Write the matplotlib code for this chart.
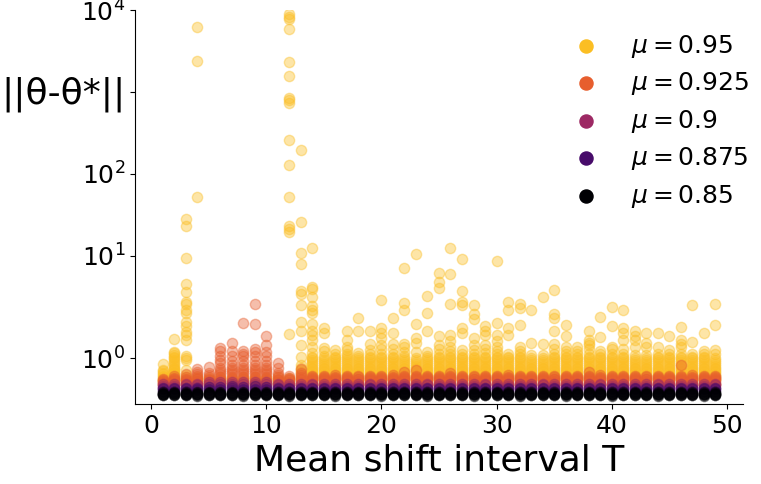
"""Parameter error ||theta - theta*|| vs. mean shift interval T for several mu."""

import matplotlib

matplotlib.use("Agg")
import matplotlib.pyplot as plt
from matplotlib.ticker import FixedLocator, NullLocator

T_VALUES = list(range(1, 50))
MU_LABELS = [r"$\mu=0.95$", r"$\mu=0.925$", r"$\mu=0.9$", r"$\mu=0.875$", r"$\mu=0.85$"]
Y_TICKS = [1, 10, 100, 1000, 10000]
Y_TICK_LABELS = [r"$10^{0}$", r"$10^{1}$", r"$10^{2}$", "", r"$10^{4}$"]

# one list of run results per T
ERR_095 = [
    [0.5, 0.53, 0.56, 0.59, 0.62, 0.65, 0.68, 0.72, 0.75, 0.87],
    [0.5, 0.53, 0.56, 0.59, 0.62, 0.65, 0.68, 0.71, 0.74, 0.77, 0.8, 0.84, 0.88,
     0.92, 0.96, 1.0, 1.04, 1.08, 1.12, 1.15, 1.42],
    [0.55, 0.6, 0.64, 0.74, 0.97, 1.0, 1.05, 1.4, 1.51, 1.58, 1.71, 1.8, 1.99, 2.2,
     2.56, 2.73, 3.6, 4.5, 9.4, 23.1, 27.9],
    [0.48, 0.54, 0.6, 52, 2355, 6170],
    [0.46, 0.52, 0.58],
    [0.47, 0.53, 0.6],
    [0.46, 0.52, 0.58],
    [0.47, 0.54, 0.6],
    [0.46, 0.52, 0.6],
    [0.47, 0.53, 0.58],
    [0.46, 0.52, 0.6],
    [0.46, 0.52, 0.58, 1.53, 19.5, 21.4, 23, 52, 127, 261, 730, 787, 840, 1556,
     2306, 5890, 7800, 8320, 8980],
    [0.55, 0.6, 0.65, 0.7, 0.75, 0.8, 0.85, 1.04, 1.29, 1.6, 1.8, 2.5, 3.4, 3.7,
     8.0, 10.8, 25.8, 194],
    [0.55, 0.58, 0.61, 0.64, 0.67, 0.7, 0.73, 0.76, 0.8, 0.84, 0.88, 0.92, 0.96,
     1.0, 1.04, 1.12, 1.25, 1.4, 1.51, 1.6, 1.75, 2.0, 2.2, 2.43, 3.14, 3.9, 4.2, 12.6],
    [0.55, 0.58, 0.61, 0.64, 0.67, 0.7, 0.73, 0.76, 0.8, 0.84, 0.88, 0.92, 0.96,
     1.0, 1.05, 1.16, 1.22, 1.55, 1.66],
    [0.55, 0.58, 0.61, 0.64, 0.67, 0.7, 0.73, 0.76, 0.8, 0.84, 0.88, 0.92, 0.96,
     1.0, 1.04, 1.1, 1.18],
    [0.55, 0.58, 0.61, 0.64, 0.67, 0.7, 0.73, 0.76, 0.8, 0.84, 0.88, 0.92, 0.96,
     1.0, 1.05, 1.1, 1.18, 1.25, 1.4, 1.6],
    [0.55, 0.58, 0.61, 0.64, 0.67, 0.7, 0.73, 0.76, 0.8, 0.84, 0.88, 0.92, 0.96,
     1.0, 1.05, 1.12, 1.6, 1.89],
    [0.55, 0.58, 0.61, 0.64, 0.67, 0.7, 0.73, 0.76, 0.8, 0.84, 0.88, 0.92, 0.96,
     1.0, 1.04, 1.1, 1.18, 1.31, 1.6],
    [0.55, 0.58, 0.61, 0.64, 0.67, 0.7, 0.73, 0.76, 0.8, 0.84, 0.88, 0.92, 0.96,
     1.0, 1.04, 1.1, 1.2, 1.3, 1.44, 1.55, 1.68, 2.86],
    [0.55, 0.58, 0.61, 0.64, 0.67, 0.7, 0.73, 0.76, 0.8, 0.84, 0.88, 0.92, 0.96,
     1.0, 1.04, 1.1, 1.2, 1.31, 1.55, 1.9],
    [0.55, 0.58, 0.61, 0.64, 0.67, 0.7, 0.73, 0.76, 0.8, 0.84, 0.88, 0.92, 0.96,
     1.0, 1.05, 1.15, 1.25, 1.31, 2.15, 2.65, 7.1],
    [0.55, 0.58, 0.61, 0.64, 0.67, 0.7, 0.73, 0.76, 0.8, 0.84, 0.88, 0.92, 0.96,
     1.0, 1.15, 1.35, 1.44, 1.75, 10.4],
    [0.55, 0.58, 0.61, 0.64, 0.67, 0.7, 0.73, 0.76, 0.8, 0.84, 0.88, 0.92, 0.96,
     1.0, 1.05, 1.15, 1.6, 2.0, 3.2],
    [0.55, 0.58, 0.61, 0.64, 0.67, 0.7, 0.73, 0.76, 0.8, 0.84, 0.88, 0.92, 0.96,
     1.0, 1.04, 1.1, 1.2, 1.3, 1.5, 4.0, 4.75, 6.07],
    [0.55, 0.58, 0.61, 0.64, 0.67, 0.7, 0.73, 0.76, 0.8, 0.84, 0.88, 0.92, 0.96,
     1.0, 1.04, 1.1, 1.16, 1.25, 1.38, 1.51, 2.58, 6.0, 12.6],
    [0.55, 0.58, 0.61, 0.64, 0.67, 0.7, 0.73, 0.76, 0.8, 0.84, 0.88, 0.92, 0.96,
     1.0, 1.04, 1.1, 1.18, 1.55, 1.66, 2.5, 2.7, 3.7, 9.0],
    [0.55, 0.58, 0.61, 0.64, 0.67, 0.7, 0.73, 0.76, 0.8, 0.84, 0.88, 0.92, 0.96,
     1.0, 1.04, 1.1, 1.18, 1.3, 1.45, 1.86, 1.98, 2.5],
    [0.55, 0.58, 0.61, 0.64, 0.67, 0.7, 0.73, 0.76, 0.8, 0.84, 0.88, 0.92, 0.96,
     1.0, 1.04, 1.12, 1.2, 1.3, 1.51, 1.6, 1.71],
    [0.55, 0.58, 0.61, 0.64, 0.67, 0.7, 0.73, 0.76, 0.8, 0.84, 0.88, 0.92, 0.96,
     1.0, 1.04, 1.1, 1.16, 1.25, 1.38, 1.51, 1.78, 8.6],
    [0.55, 0.58, 0.61, 0.64, 0.67, 0.7, 0.73, 0.76, 0.8, 0.84, 0.88, 0.92, 0.96,
     1.0, 1.04, 1.1, 1.51, 1.66, 2.15, 2.75],
    [0.55, 0.58, 0.61, 0.64, 0.67, 0.7, 0.73, 0.76, 0.8, 0.84, 0.88, 0.92, 0.96,
     1.0, 1.04, 1.1, 1.16, 1.25, 1.73, 2.27, 2.58],
    [0.55, 0.58, 0.61, 0.64, 0.67, 0.7, 0.73, 0.76, 0.8, 0.84, 0.88, 0.92, 0.96,
     1.0, 1.07, 1.35, 2.15],
    [0.55, 0.58, 0.61, 0.64, 0.67, 0.7, 0.73, 0.76, 0.8, 0.84, 0.88, 0.92, 0.96,
     1.0, 1.07, 1.31, 3.15],
    [0.55, 0.58, 0.61, 0.64, 0.67, 0.7, 0.73, 0.76, 0.8, 0.84, 0.88, 0.92, 0.96,
     1.0, 1.04, 1.1, 1.2, 1.31, 1.6, 1.9, 1.98, 3.85],
    [0.55, 0.58, 0.61, 0.64, 0.67, 0.7, 0.73, 0.76, 0.8, 0.84, 0.88, 0.92, 0.96,
     1.0, 1.04, 1.1, 1.16, 1.25, 1.49, 1.73],
    [0.55, 0.58, 0.61, 0.64, 0.67, 0.7, 0.73, 0.76, 0.8, 0.84, 0.88, 0.92, 0.96,
     1.0, 1.04, 1.1, 1.16, 1.25],
    [0.55, 0.58, 0.61, 0.64, 0.67, 0.7, 0.73, 0.76, 0.8, 0.84, 0.88, 0.92, 0.96,
     1.0, 1.04, 1.1, 1.2, 1.3, 1.35, 1.4, 1.6],
    [0.55, 0.58, 0.61, 0.64, 0.67, 0.7, 0.73, 0.76, 0.8, 0.84, 0.88, 0.92, 0.96,
     1.0, 1.04, 1.1, 1.17, 1.47, 1.91],
    [0.55, 0.58, 0.61, 0.64, 0.67, 0.7, 0.73, 0.76, 0.8, 0.84, 0.88, 0.92, 0.96,
     1.0, 1.04, 1.1, 1.2, 1.25, 1.72, 2.4],
    [0.55, 0.58, 0.61, 0.64, 0.67, 0.7, 0.73, 0.76, 0.8, 0.84, 0.88, 0.92, 0.96,
     1.0, 1.04, 1.1, 1.2, 1.4, 1.55, 1.66, 2.2],
    [0.55, 0.58, 0.61, 0.64, 0.67, 0.7, 0.73, 0.76, 0.8, 0.84, 0.88, 0.92, 0.96,
     1.0, 1.07, 1.25, 1.4, 1.5, 1.6],
    [0.55, 0.58, 0.61, 0.64, 0.67, 0.7, 0.73, 0.76, 0.8, 0.84, 0.88, 0.92, 0.96,
     1.0, 1.07, 1.25, 1.35, 1.55],
    [0.55, 0.58, 0.61, 0.64, 0.67, 0.7, 0.73, 0.76, 0.8, 0.84, 0.88, 0.92, 0.96,
     1.0, 1.04, 1.1, 1.25, 1.55],
    [0.55, 0.58, 0.61, 0.64, 0.67, 0.7, 0.73, 0.76, 0.8, 0.84, 0.88, 0.92, 0.96,
     1.0, 1.04, 1.1, 1.18, 1.5],
    [0.55, 0.58, 0.61, 0.64, 0.67, 0.7, 0.73, 0.76, 0.8, 0.84, 0.88, 0.92, 0.96,
     1.0, 1.04, 1.1, 1.25, 1.31, 1.4, 1.69],
    [0.55, 0.58, 0.61, 0.64, 0.67, 0.7, 0.73, 0.76, 0.8, 0.84, 0.88, 0.92, 0.96,
     1.0, 1.04, 1.1, 1.37, 2.5],
    [0.55, 0.58, 0.61, 0.64, 0.67, 0.7, 0.73, 0.76, 0.8, 0.84, 0.88, 0.92, 0.96,
     1.0, 1.04, 1.1, 1.16, 1.55],
    [0.55, 0.58, 0.61, 0.64, 0.67, 0.7, 0.73, 0.76, 0.8, 0.83, 0.88, 0.92, 0.96,
     1.02, 1.1, 1.18, 1.74, 2.58],
]

ERR_0925 = [
    [0.42, 0.44, 0.46, 0.48, 0.5, 0.53, 0.55],
    [0.42, 0.45, 0.47, 0.5, 0.52, 0.55, 0.58, 0.62],
    [0.43, 0.46, 0.48, 0.5, 0.53, 0.56, 0.6, 0.66],
    [0.42, 0.45, 0.48, 0.51, 0.55, 0.58, 0.62, 0.66, 0.7, 0.78],
    [0.45, 0.48, 0.52, 0.56, 0.6, 0.64, 0.68, 0.82],
    [0.45, 0.48, 0.52, 0.56, 0.6, 0.65, 0.7, 0.75, 0.8, 0.9, 0.96, 1.05, 1.16, 1.22],
    [0.45, 0.5, 0.55, 0.6, 0.65, 0.7, 0.75, 0.8, 0.85, 0.95, 1.05, 1.16, 1.33],
    [0.45, 0.5, 0.55, 0.6, 0.65, 0.7, 0.75, 0.8, 0.85, 0.95, 1.05, 1.1, 1.16, 1.79],
    [0.45, 0.5, 0.55, 0.6, 0.65, 0.7, 0.75, 0.8, 0.85, 0.95, 1.05, 1.15, 1.2,
     1.75, 2.6],
    [0.45, 0.5, 0.55, 0.6, 0.65, 0.7, 0.75, 0.8, 0.85, 0.95, 1.05, 1.15, 1.29, 1.5],
    [0.45, 0.48, 0.52, 0.56, 0.6, 0.64, 0.68, 0.8, 0.9],
    [0.42, 0.45, 0.48, 0.52, 0.55, 0.58, 0.62],
    [0.45, 0.48, 0.52, 0.56, 0.6, 0.64, 0.68, 0.78],
    [0.42, 0.45, 0.47, 0.5, 0.52, 0.55, 0.57, 0.6, 0.62],
    [0.42, 0.45, 0.47, 0.5, 0.52, 0.55, 0.57, 0.6, 0.62],
    [0.42, 0.45, 0.47, 0.5, 0.52, 0.55, 0.58, 0.6, 0.63],
    [0.42, 0.45, 0.47, 0.5, 0.52, 0.55, 0.57, 0.6, 0.62],
    [0.42, 0.44, 0.46, 0.49, 0.51, 0.54, 0.56, 0.59, 0.62],
    [0.42, 0.45, 0.47, 0.5, 0.52, 0.55, 0.57, 0.6, 0.62],
    [0.42, 0.45, 0.47, 0.5, 0.52, 0.55, 0.57, 0.6, 0.62],
    [0.42, 0.45, 0.47, 0.5, 0.52, 0.55, 0.58, 0.6, 0.63],
    [0.42, 0.45, 0.47, 0.5, 0.52, 0.55, 0.57, 0.6, 0.62, 0.71],
    [0.42, 0.45, 0.47, 0.5, 0.52, 0.55, 0.57, 0.6, 0.62, 0.74],
    [0.42, 0.45, 0.47, 0.5, 0.52, 0.55, 0.57, 0.6, 0.62],
    [0.42, 0.45, 0.47, 0.5, 0.52, 0.55, 0.57, 0.6, 0.62],
    [0.42, 0.45, 0.47, 0.5, 0.52, 0.55, 0.57, 0.6, 0.62, 0.68],
    [0.42, 0.45, 0.47, 0.5, 0.52, 0.55, 0.57, 0.6, 0.62],
    [0.42, 0.44, 0.46, 0.49, 0.51, 0.54, 0.56, 0.59, 0.62],
    [0.42, 0.45, 0.47, 0.5, 0.52, 0.55, 0.57, 0.6, 0.62],
    [0.42, 0.45, 0.47, 0.5, 0.52, 0.55, 0.57, 0.6, 0.62],
    [0.42, 0.45, 0.47, 0.5, 0.52, 0.55, 0.58, 0.6, 0.63],
    [0.42, 0.45, 0.47, 0.5, 0.52, 0.55, 0.57, 0.6, 0.62],
    [0.42, 0.45, 0.47, 0.5, 0.52, 0.55, 0.57, 0.6, 0.62],
    [0.42, 0.45, 0.47, 0.5, 0.52, 0.55, 0.57, 0.6, 0.62],
    [0.42, 0.44, 0.46, 0.49, 0.51, 0.54, 0.56, 0.59, 0.62],
    [0.42, 0.45, 0.47, 0.5, 0.52, 0.55, 0.57, 0.6, 0.62],
    [0.42, 0.45, 0.47, 0.5, 0.52, 0.55, 0.57, 0.6, 0.62],
    [0.42, 0.45, 0.47, 0.5, 0.52, 0.55, 0.57, 0.6, 0.62, 0.7],
    [0.42, 0.45, 0.47, 0.5, 0.52, 0.55, 0.58, 0.6, 0.63],
    [0.42, 0.45, 0.47, 0.5, 0.52, 0.55, 0.57, 0.6, 0.62],
    [0.42, 0.45, 0.47, 0.5, 0.52, 0.55, 0.57, 0.6, 0.62],
    [0.42, 0.45, 0.47, 0.5, 0.52, 0.55, 0.57, 0.6, 0.62],
    [0.42, 0.44, 0.46, 0.49, 0.51, 0.54, 0.56, 0.59, 0.62],
    [0.42, 0.45, 0.47, 0.5, 0.52, 0.55, 0.57, 0.6, 0.62],
    [0.42, 0.45, 0.47, 0.5, 0.52, 0.55, 0.57, 0.6, 0.62],
    [0.42, 0.45, 0.47, 0.5, 0.52, 0.55, 0.57, 0.6, 0.62, 0.85],
    [0.42, 0.45, 0.47, 0.5, 0.52, 0.55, 0.58, 0.6, 0.63],
    [0.42, 0.45, 0.47, 0.5, 0.52, 0.55, 0.57, 0.6, 0.62],
    [0.42, 0.45, 0.47, 0.5, 0.52, 0.55, 0.57, 0.6, 0.62],
]

ERR_09 = [
    [0.36, 0.4, 0.44], [0.36, 0.4, 0.44], [0.36, 0.41, 0.45], [0.37, 0.41, 0.45],
    [0.38, 0.43, 0.48], [0.38, 0.43, 0.48], [0.38, 0.44, 0.49], [0.38, 0.43, 0.48],
    [0.38, 0.43, 0.49], [0.38, 0.43, 0.48], [0.37, 0.41, 0.45], [0.36, 0.4, 0.44],
    [0.36, 0.4, 0.44], [0.36, 0.41, 0.45], [0.36, 0.4, 0.44], [0.36, 0.4, 0.44],
    [0.36, 0.4, 0.45], [0.36, 0.4, 0.44], [0.36, 0.41, 0.44], [0.36, 0.4, 0.44],
    [0.36, 0.4, 0.44], [0.36, 0.4, 0.45], [0.36, 0.4, 0.44], [0.36, 0.41, 0.44],
    [0.36, 0.4, 0.44], [0.36, 0.4, 0.44], [0.36, 0.4, 0.45], [0.36, 0.4, 0.44],
    [0.36, 0.41, 0.44], [0.36, 0.4, 0.44], [0.36, 0.4, 0.44], [0.36, 0.4, 0.45],
    [0.36, 0.4, 0.44], [0.36, 0.41, 0.44], [0.36, 0.4, 0.44], [0.36, 0.4, 0.44],
    [0.36, 0.4, 0.45], [0.36, 0.4, 0.44], [0.36, 0.41, 0.44], [0.36, 0.4, 0.44],
    [0.36, 0.4, 0.44], [0.36, 0.4, 0.45], [0.36, 0.4, 0.44], [0.36, 0.41, 0.44],
    [0.36, 0.4, 0.44], [0.36, 0.4, 0.44], [0.36, 0.4, 0.45], [0.36, 0.4, 0.44],
    [0.36, 0.41, 0.44],
]

ERR_0875 = [
    [0.29, 0.32, 0.35], [0.29, 0.32, 0.35], [0.29, 0.33, 0.36], [0.3, 0.33, 0.36],
    [0.3, 0.34, 0.38], [0.3, 0.34, 0.38], [0.3, 0.35, 0.39], [0.3, 0.34, 0.38],
    [0.3, 0.34, 0.39], [0.3, 0.34, 0.38], [0.29, 0.33, 0.36], [0.29, 0.32, 0.35],
    [0.29, 0.32, 0.35], [0.29, 0.33, 0.35], [0.29, 0.32, 0.35], [0.29, 0.32, 0.36],
    [0.29, 0.32, 0.35], [0.29, 0.32, 0.35], [0.29, 0.33, 0.35], [0.29, 0.32, 0.35],
    [0.29, 0.32, 0.36], [0.29, 0.32, 0.35], [0.29, 0.32, 0.35], [0.29, 0.33, 0.35],
    [0.29, 0.32, 0.35], [0.29, 0.32, 0.36], [0.29, 0.32, 0.35], [0.29, 0.32, 0.35],
    [0.29, 0.33, 0.35], [0.29, 0.32, 0.35], [0.29, 0.32, 0.36], [0.29, 0.32, 0.35],
    [0.29, 0.32, 0.35], [0.29, 0.33, 0.35], [0.29, 0.32, 0.35], [0.29, 0.32, 0.36],
    [0.29, 0.32, 0.35], [0.29, 0.32, 0.35], [0.29, 0.33, 0.35], [0.29, 0.32, 0.35],
    [0.29, 0.32, 0.36], [0.29, 0.32, 0.35], [0.29, 0.32, 0.35], [0.29, 0.33, 0.35],
    [0.29, 0.32, 0.35], [0.29, 0.32, 0.36], [0.29, 0.32, 0.35], [0.29, 0.32, 0.35],
    [0.29, 0.33, 0.35],
]

ERR_085 = [
    [0.19, 0.2, 0.21, 0.22, 0.23, 0.24, 0.26], [0.19, 0.2, 0.21, 0.22, 0.24, 0.25, 0.27],
    [0.19, 0.2, 0.21, 0.22, 0.23, 0.25, 0.27], [0.18, 0.2, 0.21, 0.22, 0.23, 0.24, 0.26],
    [0.19, 0.2, 0.21, 0.23, 0.24, 0.25, 0.27], [0.19, 0.2, 0.21, 0.22, 0.23, 0.25, 0.27],
    [0.19, 0.2, 0.22, 0.23, 0.24, 0.25, 0.27], [0.18, 0.2, 0.21, 0.22, 0.23, 0.24, 0.26],
    [0.19, 0.2, 0.21, 0.22, 0.24, 0.25, 0.27], [0.19, 0.2, 0.21, 0.22, 0.23, 0.25, 0.27],
    [0.19, 0.2, 0.21, 0.22, 0.23, 0.24, 0.26], [0.18, 0.2, 0.21, 0.22, 0.23, 0.24, 0.26],
    [0.19, 0.2, 0.21, 0.22, 0.23, 0.25, 0.27], [0.19, 0.2, 0.21, 0.23, 0.24, 0.25, 0.27],
    [0.19, 0.2, 0.21, 0.22, 0.23, 0.24, 0.26], [0.18, 0.2, 0.21, 0.22, 0.23, 0.24, 0.26],
    [0.19, 0.2, 0.21, 0.22, 0.23, 0.25, 0.27], [0.19, 0.2, 0.21, 0.22, 0.24, 0.25, 0.27],
    [0.19, 0.2, 0.21, 0.22, 0.23, 0.24, 0.26], [0.18, 0.2, 0.21, 0.22, 0.23, 0.25, 0.27],
    [0.19, 0.2, 0.21, 0.22, 0.23, 0.24, 0.26], [0.19, 0.2, 0.21, 0.23, 0.24, 0.25, 0.27],
    [0.19, 0.2, 0.21, 0.22, 0.23, 0.24, 0.26], [0.18, 0.2, 0.21, 0.22, 0.23, 0.24, 0.26],
    [0.19, 0.2, 0.21, 0.22, 0.23, 0.25, 0.27], [0.19, 0.2, 0.21, 0.22, 0.24, 0.25, 0.27],
    [0.19, 0.2, 0.21, 0.22, 0.23, 0.24, 0.26], [0.18, 0.2, 0.21, 0.22, 0.23, 0.25, 0.27],
    [0.19, 0.2, 0.21, 0.22, 0.23, 0.24, 0.26], [0.19, 0.2, 0.21, 0.23, 0.24, 0.25, 0.27],
    [0.19, 0.2, 0.21, 0.22, 0.23, 0.24, 0.26], [0.18, 0.2, 0.21, 0.22, 0.23, 0.24, 0.26],
    [0.19, 0.2, 0.21, 0.22, 0.23, 0.25, 0.27], [0.19, 0.2, 0.21, 0.22, 0.24, 0.25, 0.27],
    [0.19, 0.2, 0.21, 0.22, 0.23, 0.24, 0.26], [0.18, 0.2, 0.21, 0.22, 0.23, 0.24, 0.26],
    [0.19, 0.2, 0.21, 0.22, 0.23, 0.25, 0.27], [0.19, 0.2, 0.21, 0.23, 0.24, 0.25, 0.27],
    [0.19, 0.2, 0.21, 0.22, 0.23, 0.24, 0.26], [0.18, 0.2, 0.21, 0.22, 0.23, 0.25, 0.27],
    [0.19, 0.2, 0.21, 0.22, 0.23, 0.24, 0.26], [0.19, 0.2, 0.21, 0.22, 0.24, 0.25, 0.27],
    [0.19, 0.2, 0.21, 0.22, 0.23, 0.24, 0.26], [0.18, 0.2, 0.21, 0.22, 0.23, 0.24, 0.26],
    [0.19, 0.2, 0.21, 0.22, 0.23, 0.25, 0.27], [0.19, 0.2, 0.21, 0.23, 0.24, 0.25, 0.27],
    [0.19, 0.2, 0.21, 0.22, 0.23, 0.24, 0.26], [0.18, 0.2, 0.21, 0.22, 0.23, 0.25, 0.27],
    [0.19, 0.2, 0.21, 0.22, 0.23, 0.24, 0.26],
]

ALL_RUNS = [ERR_095, ERR_0925, ERR_09, ERR_0875, ERR_085]
# positions in the inferno colormap, bright (0.95) to black (0.85)
CMAP_POS = [0.85, 0.6375, 0.425, 0.2125, 0.0]


def flatten(runs):
    xs = [t for t, vals in zip(T_VALUES, runs) for _ in vals]
    ys = [v for vals in runs for v in vals]
    return xs, ys


def main() -> None:
    fig = plt.figure(figsize=(7.61, 4.84), dpi=100)
    ax = fig.add_axes([0.1774, 0.1653, 0.9763 - 0.1774, 0.9793 - 0.1653])

    for runs, label, pos in zip(ALL_RUNS, MU_LABELS, CMAP_POS):
        xs, ys = flatten(runs)
        ax.scatter(xs, ys, s=55, color=plt.cm.inferno(pos), alpha=0.4,
                   linewidths=1.0, label=label)

    ax.set_yscale("symlog", linthresh=2)
    ax.set_ylim(0, 1e4)
    ax.set_xlim(-1.4, 51.4)
    ax.yaxis.set_major_locator(FixedLocator(Y_TICKS))
    ax.yaxis.set_minor_locator(NullLocator())
    ax.set_yticklabels(Y_TICK_LABELS)
    ax.set_xticks([0, 10, 20, 30, 40, 50])
    ax.tick_params(labelsize=18)

    ax.spines["top"].set_visible(False)
    ax.spines["right"].set_visible(False)

    ax.set_xlabel("Mean shift interval T", fontsize=26)
    ax.set_ylabel("||θ-θ*||", fontsize=26, rotation=0, ha="center", va="center")
    ax.yaxis.set_label_coords(-0.118, 0.785)

    leg = ax.legend(loc="upper right", bbox_to_anchor=(1.046, 1.0),
                    frameon=False, fontsize=18, markerscale=1.27, labelspacing=0.42)
    for handle in leg.legend_handles:
        handle.set_alpha(1)

    fig.savefig("out.png", dpi=100)
    plt.close(fig)


if __name__ == "__main__":
    main()
